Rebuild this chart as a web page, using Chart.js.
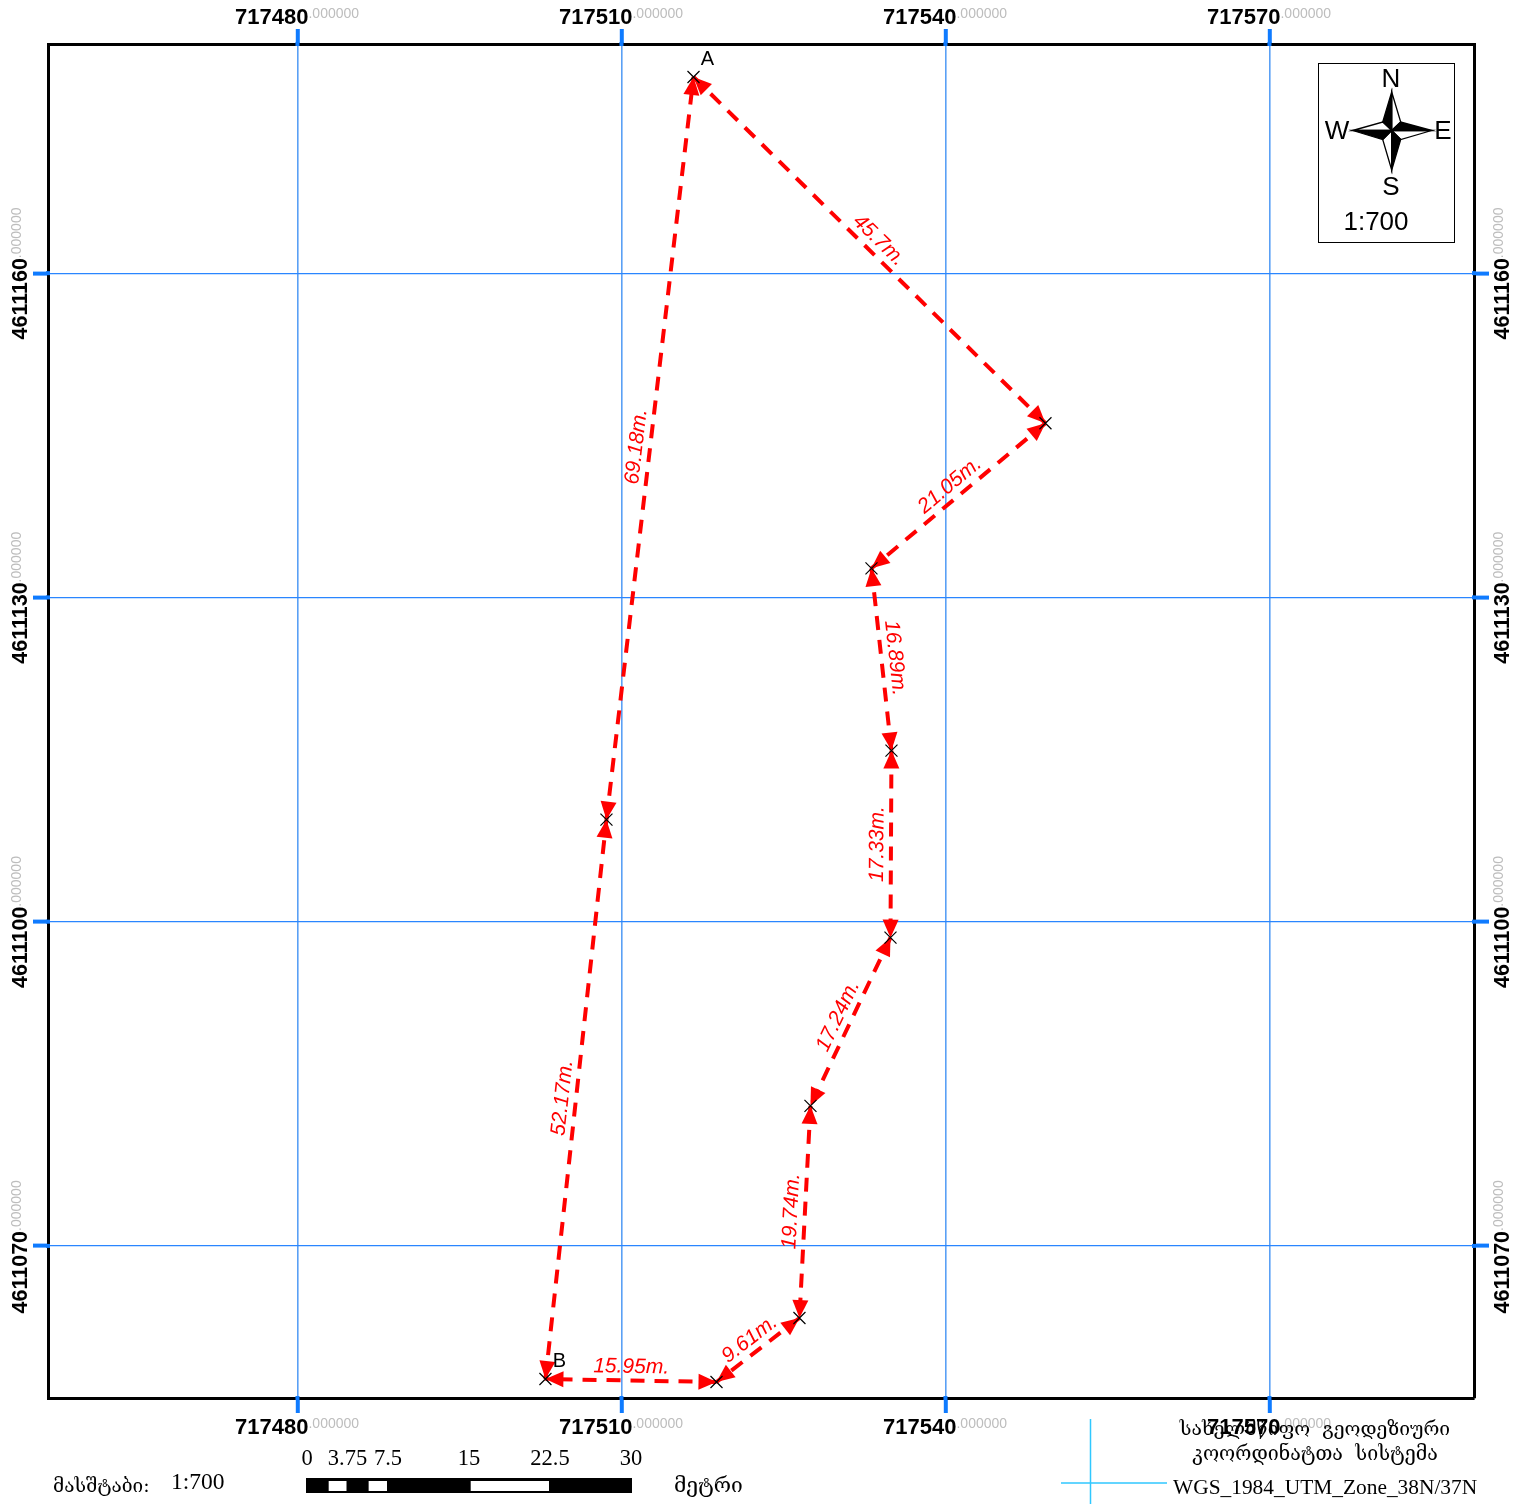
<!DOCTYPE html>
<html>
<head>
<meta charset="utf-8">
<title>Map</title>
<script src="https://cdn.jsdelivr.net/npm/chart.js@4/dist/chart.umd.min.js"></script>
<style>
  html, body { margin: 0; padding: 0; background: #fff; overflow: hidden; }
  #wrap { width: 1519px; height: 1504px; }
</style>
</head>
<body>
<div id="wrap"><canvas id="map" width="1519" height="1504"></canvas></div>
<script>
// values (UTM metres)
const pointX = [717516.67, 717549.26, 717533.15, 717535.00, 717534.91, 717527.50, 717526.48, 717518.80, 717502.96, 717508.61];
const pointY = [4611178.15, 4611146.11, 4611132.69, 4611115.83, 4611098.52, 4611082.96, 4611063.33, 4611057.41, 4611057.69, 4611109.44];
const segmentLabels = ['45.7m.', '21.05m.', '16.89m.', '17.33m.', '17.24m.', '19.74m.', '9.61m.', '15.95m.', '52.17m.', '69.18m.'];
const endLabels = ['A', 'B'];
const endIndex = [0, 8];
const xTicks = [717480, 717510, 717540, 717570];
const yTicks = [4611160, 4611130, 4611100, 4611070];
const scaleBarTicks = [0, 3.75, 7.5, 15, 22.5, 30];
const scaleBarWhite = [[2.1, 3.75], [5.8, 7.5], [15.25, 22.5]];

const xRange = [717456.90, 717588.94];
const yRange = [4611055.93, 4611181.20];

const RED = '#ff0000';
const TICK_BLUE = '#0f7bff';
const SANS = '"Liberation Sans"';
const SERIF = '"Liberation Serif"';
const GEO = '"DejaVu Serif", "DejaVu Sans"';

function label(ctx, text, x, y, font, color, align, angle) {
  ctx.save();
  ctx.translate(x, y);
  if (angle) ctx.rotate(angle);
  ctx.font = font;
  ctx.fillStyle = color || '#000';
  ctx.textAlign = align || 'center';
  ctx.textBaseline = 'middle';
  ctx.fillText(text, 0, 1);
  ctx.restore();
}

function arrowHead(ctx, tipX, tipY, fromX, fromY) {
  const a = Math.atan2(tipY - fromY, tipX - fromX);
  ctx.save();
  ctx.translate(tipX, tipY);
  ctx.rotate(a);
  ctx.beginPath();
  ctx.moveTo(0, 0);
  ctx.lineTo(-18, -8);
  ctx.lineTo(-18, 8);
  ctx.closePath();
  ctx.fillStyle = RED;
  ctx.fill();
  ctx.restore();
}

// arrow heads and distance labels, between the dashed lines and the crosses
const segmentDecor = {
  id: 'segmentDecor',
  afterDatasetsDraw(chart) {
    const { ctx, scales: { x, y } } = chart;
    const n = pointX.length;
    for (let i = 0; i < n; i++) {
      const j = (i + 1) % n;
      const x1 = x.getPixelForValue(pointX[i]), y1 = y.getPixelForValue(pointY[i]);
      const x2 = x.getPixelForValue(pointX[j]), y2 = y.getPixelForValue(pointY[j]);
      arrowHead(ctx, x1, y1, x2, y2);
      arrowHead(ctx, x2, y2, x1, y1);

      let a = Math.atan2(y2 - y1, x2 - x1);
      if (a > Math.PI / 2) a -= Math.PI;
      if (a < -Math.PI / 2) a += Math.PI;
      const mx = (x1 + x2) / 2 + Math.sin(a) * 14.5;
      const my = (y1 + y2) / 2 - Math.cos(a) * 14.5;
      label(ctx, segmentLabels[i], mx, my, 'italic 21px ' + SANS, RED, 'center', a);
    }
    // crosses on top
    for (let i = 0; i < n; i++) {
      const cx = x.getPixelForValue(pointX[i]), cy = y.getPixelForValue(pointY[i]);
      ctx.save();
      ctx.strokeStyle = '#000';
      ctx.lineWidth = 1.2;
      ctx.beginPath();
      ctx.moveTo(cx - 6, cy - 6); ctx.lineTo(cx + 6, cy + 6);
      ctx.moveTo(cx - 6, cy + 6); ctx.lineTo(cx + 6, cy - 6);
      ctx.stroke();
      ctx.restore();
    }
    endLabels.forEach((t, k) => {
      const cx = x.getPixelForValue(pointX[endIndex[k]]), cy = y.getPixelForValue(pointY[endIndex[k]]);
      label(ctx, t, cx + 14, cy - 18, '20px ' + SANS, '#000');
    });
  }
};

// coordinate labels all round the frame, whole part bold, decimals grey
const frameLabels = {
  id: 'frameLabels',
  afterDraw(chart) {
    const { ctx, chartArea: area, scales: { x, y } } = chart;
    const grey = '14px ' + SANS;
    // the blue tick marks run over the black frame
    ctx.save();
    ctx.fillStyle = TICK_BLUE;
    x.ticks.forEach(t => {
      const px = x.getPixelForValue(t.value);
      ctx.fillRect(px - 2, area.top - 2, 4, 4);
      ctx.fillRect(px - 2, area.bottom - 2, 4, 4);
    });
    y.ticks.forEach(t => {
      const py = y.getPixelForValue(t.value);
      ctx.fillRect(area.left - 2, py - 2, 4, 4);
      ctx.fillRect(area.right - 2, py - 2, 4, 4);
    });
    ctx.restore();

    x.ticks.forEach(t => {
      const px = x.getPixelForValue(t.value);
      [17, 1427].forEach(py => {
        label(ctx, String(t.value), px + 11, py, 'bold 22px ' + SANS, '#000', 'right');
        label(ctx, '.000000', px + 11, py - 4, grey, '#bdbdbd', 'left');
      });
    });
    y.ticks.forEach(t => {
      const py = y.getPixelForValue(t.value);
      [20, 1502].forEach(px => {
        label(ctx, String(t.value), px, py - 15, 'bold 21.5px ' + SANS, '#000', 'right', -Math.PI / 2);
        label(ctx, '.000000', px - 4, py - 15, grey, '#bdbdbd', 'left', -Math.PI / 2);
      });
    });
  }
};

// north arrow box, scale bar and coordinate system note
const mapFurniture = {
  id: 'mapFurniture',
  afterDraw(chart) {
    const { ctx, scales: { x } } = chart;
    ctx.save();
    ctx.fillStyle = '#fff';
    ctx.strokeStyle = '#000';
    ctx.lineWidth = 1;
    ctx.fillRect(1318, 63, 136, 179);
    ctx.strokeRect(1318.5, 63.5, 136, 179);

    const cx = 1391.7, cy = 130.5;
    const arms = [
      [[0, -38.5], [-9, -8.5], [9, -8.5]],
      [[40, 0], [9, -8.5], [9, 9]],
      [[0, 39.5], [9, 9], [-9, 9]],
      [[-39, 0], [-9, 9], [-9, -8.5]]
    ];
    ctx.lineWidth = 1.3;
    arms.forEach(([tip, dark, light]) => {
      ctx.beginPath();
      ctx.moveTo(cx + tip[0], cy + tip[1]);
      ctx.lineTo(cx + light[0], cy + light[1]);
      ctx.lineTo(cx, cy);
      ctx.closePath();
      ctx.fillStyle = '#fff';
      ctx.fill();
      ctx.stroke();
      ctx.beginPath();
      ctx.moveTo(cx + tip[0], cy + tip[1]);
      ctx.lineTo(cx + dark[0], cy + dark[1]);
      ctx.lineTo(cx, cy);
      ctx.closePath();
      ctx.fillStyle = '#000';
      ctx.fill();
      ctx.stroke();
    });
    ctx.restore();
    label(ctx, 'N', 1391, 79, '26px ' + SANS);
    label(ctx, 'S', 1391, 187, '26px ' + SANS);
    label(ctx, 'W', 1337, 131, '26px ' + SANS);
    label(ctx, 'E', 1443, 131, '26px ' + SANS);
    label(ctx, '1:700', 1376, 222, '26px ' + SANS);

    // scale bar uses the map's own metres
    const barLeft = 306;
    const m = v => barLeft + (x.getPixelForValue(xRange[0] + v) - x.getPixelForValue(xRange[0]));
    ctx.fillStyle = '#000';
    ctx.fillRect(barLeft, 1478, m(30) - barLeft + 2, 15);
    ctx.fillStyle = '#fff';
    scaleBarWhite.forEach(([a, b]) => ctx.fillRect(m(a), 1481, m(b) - m(a), 10));
    scaleBarTicks.forEach(v => label(ctx, String(v), m(v) + 1, 1458, '22.5px ' + SERIF));

    label(ctx, 'მასშტაბი:', 53, 1486, '19px ' + GEO, '#000', 'left');
    label(ctx, '1:700', 171, 1482, '23.5px ' + SERIF, '#000', 'left');
    label(ctx, 'მეტრი', 674, 1486, '21px ' + GEO, '#000', 'left');
    label(ctx, 'სახელმწიფო  გეოდეზიური', 1315, 1429, '19.3px ' + GEO);
    label(ctx, 'კოორდინატთა  სისტემა', 1315, 1454, '19.6px ' + GEO);
    label(ctx, 'WGS_1984_UTM_Zone_38N/37N', 1173, 1487, '21.4px ' + SERIF, '#000', 'left');

    ctx.save();
    ctx.strokeStyle = '#30c8ff';
    ctx.lineWidth = 1.5;
    ctx.beginPath();
    ctx.moveTo(1090.5, 1419); ctx.lineTo(1090.5, 1504);
    ctx.moveTo(1061, 1483); ctx.lineTo(1167, 1483);
    ctx.stroke();
    ctx.restore();
  }
};

function fixedAxis(position, range, tickValues, size, gridColor, gridWidth, onArea) {
  return {
    type: 'linear',
    position: position,
    min: range[0],
    max: range[1],
    afterBuildTicks: s => { s.ticks = tickValues.map(v => ({ value: v })); },
    afterFit: s => {
      if (s.isHorizontal()) s.height = size; else s.width = size;
    },
    ticks: { display: false },
    border: { display: true, color: '#000', width: 3 },
    grid: {
      display: true,
      drawOnChartArea: onArea,
      drawTicks: true,
      tickLength: 15,
      tickWidth: 4,
      tickColor: TICK_BLUE,
      color: gridColor,
      lineWidth: gridWidth
    }
  };
}

// one dataset for each leg so the dashes restart at every corner
const legs = pointX.map((px, i) => {
  const j = (i + 1) % pointX.length;
  return {
    data: [{ x: px, y: pointY[i] }, { x: pointX[j], y: pointY[j] }],
    borderColor: RED,
    borderWidth: 4,
    borderDash: [14, 10],
    pointRadius: 0,
    showLine: true,
    fill: false
  };
});

new Chart(document.getElementById('map'), {
  type: 'scatter',
  data: { datasets: legs },
  options: {
    responsive: false,
    animation: false,
    devicePixelRatio: 1,
    layout: { padding: 0 },
    plugins: { legend: { display: false }, tooltip: { enabled: false } },
    scales: {
      x: fixedAxis('bottom', xRange, xTicks, 106, '#5aa0f5', 1.6, true),
      xTop: fixedAxis('top', xRange, xTicks, 44, '#5aa0f5', 1.6, false),
      y: fixedAxis('left', yRange, yTicks, 48, '#2a86ff', 1.2, true),
      yRight: fixedAxis('right', yRange, yTicks, 45, '#2a86ff', 1.2, false)
    }
  },
  plugins: [segmentDecor, frameLabels, mapFurniture]
});
</script>
</body>
</html>
